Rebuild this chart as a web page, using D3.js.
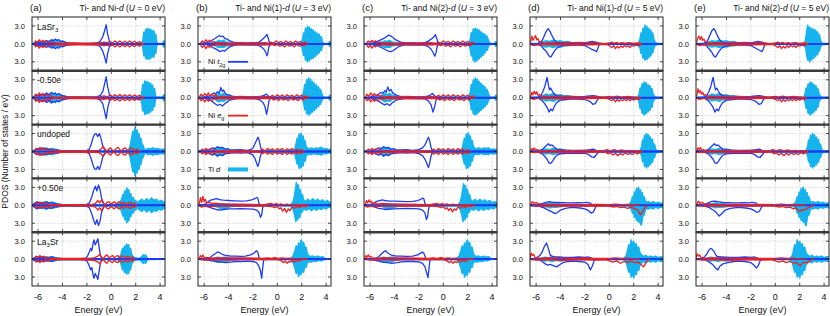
<!DOCTYPE html>
<html lang="en">
<head>
<meta charset="UTF-8">
<title>PDOS panels</title>
<script src="https://cdn.jsdelivr.net/npm/d3@7"></script>
<style>
  body { margin: 0; background: #fff; }
  text { font-family: "Liberation Sans", Arial, Helvetica, sans-serif; fill: #111; }
</style>
</head>
<body>
<script>
// ---- labels ----
var panelTags = ["(a)", "(b)", "(c)", "(d)", "(e)"];
var niSites = ["Ni", "Ni(1)", "Ni(2)", "Ni(1)", "Ni(2)"];
var uValues = [0, 3, 3, 5, 5];
var rowLabels = [
    [["LaSr", 0], ["3", 1]],
    [["-0.50e", 0]],
    [["undoped", 0]],
    [["+0.50e", 0]],
    [["La", 0], ["3", 1], ["Sr", 0]]
];
var legendLabels = [
    [["Ni ", 0], ["t", 2], ["2g", 1]],
    [["Ni ", 0], ["e", 2], ["g", 1]],
    [["Ti ", 0], ["d", 2]]
];
var xTicks = [-6, -4, -2, 0, 2, 4];
var yTicks = [3, 0, -3];
var yTickLabels = ["3.0", "0.0", "3.0"];

// ---- (a) U = 0, spin degenerate: [energy, states] ----
var t2gA = [
    [[-6.5,0],[-6.3,0.1],[-6.1,0.3],[-5.9,0.2],[-5.7,0.4],[-5.5,0.3],[-5.3,0.5],[-5.1,0.4],[-4.9,0.7],[-4.75,0.5],[-4.6,0.8],[-4.45,0.6],[-4.3,0.7],[-4.15,0.4],[-4.0,0.5],[-3.8,0.3],[-3.6,0.15],[-3.2,0.1],[-2.6,0.05],[-2.0,0.1],[-1.5,0.1],[-1.1,0.2],[-0.9,0.5],[-0.7,1.2],[-0.55,2.2],[-0.42,3.2],[-0.3,1.6],[-0.15,0.4],[0.1,0.1],[0.3,0],[4.4,0]],
    [[-6.5,0],[-6.3,0.2],[-6.1,0.5],[-5.9,0.3],[-5.7,0.6],[-5.5,0.4],[-5.3,0.8],[-5.1,0.5],[-4.9,0.9],[-4.75,0.6],[-4.6,0.8],[-4.45,0.5],[-4.3,0.7],[-4.1,0.4],[-3.9,0.3],[-3.6,0.15],[-3.0,0.1],[-2.0,0.1],[-1.2,0.15],[-0.9,0.4],[-0.7,1.0],[-0.55,2.3],[-0.42,3.5],[-0.3,1.8],[-0.15,0.5],[0.1,0.1],[0.3,0],[4.4,0]],
    [[-6.5,0],[-6.3,0.2],[-6.1,0.5],[-5.9,0.3],[-5.7,0.6],[-5.5,0.4],[-5.3,0.5],[-5.1,0.3],[-4.9,0.4],[-4.7,0.2],[-4.5,0.3],[-4.2,0.1],[-3.5,0.1],[-3.0,0.15],[-2.5,0.1],[-2.0,0.15],[-1.8,0.4],[-1.65,1.2],[-1.5,2.3],[-1.37,2.9],[-1.25,3.0],[-1.12,2.5],[-0.98,3.0],[-0.85,2.2],[-0.7,0.9],[-0.55,0.3],[-0.4,0.1],[0,0],[4.4,0]],
    [[-6.5,0],[-6.3,0.3],[-6.1,0.6],[-5.9,0.3],[-5.7,0.5],[-5.5,0.3],[-5.3,0.6],[-5.1,0.4],[-4.9,0.5],[-4.7,0.3],[-4.4,0.2],[-4.0,0.1],[-3.0,0.1],[-2.0,0.15],[-1.8,0.4],[-1.6,1.4],[-1.45,2.5],[-1.3,3.2],[-1.18,2.4],[-1.05,3.4],[-0.92,2.6],[-0.8,1.2],[-0.65,0.4],[-0.5,0.1],[0,0],[4.4,0]],
    [[-6.5,0],[-6.3,0.2],[-6.1,0.4],[-5.9,0.2],[-5.7,0.4],[-5.5,0.2],[-5.3,0.3],[-5.1,0.2],[-4.9,0.4],[-4.7,0.2],[-4.4,0.1],[-3.5,0.05],[-2.5,0.1],[-2.1,0.15],[-1.95,0.5],[-1.8,1.2],[-1.7,1.8],[-1.6,1.4],[-1.5,2.6],[-1.42,3.2],[-1.32,2.4],[-1.22,2.8],[-1.1,3.4],[-1.0,2.0],[-0.9,0.7],[-0.8,0.2],[-0.6,0.05],[0,0],[4.4,0]]
];
var egA = [
    [[-6.3,0.1],[-6.2,0.5],[-6.05,0.2],[-5.9,0.7],[-5.75,0.3],[-5.6,0.6],[-5.45,0.2],[-5.3,0.5],[-5.15,0.2],[-5.0,0.3],[-4.5,0.15],[-4.0,0.1],[-3.0,0.15],[-2.0,0.1],[-1.0,0.15],[-0.6,0.3],[-0.3,0.2],[-0.1,0.4],[0.1,0.15],[0.3,0.5],[0.5,0.2],[0.7,0.5],[0.9,0.15],[1.1,0.45],[1.3,0.2],[1.5,0.5],[1.7,0.2],[1.9,0.45],[2.1,0.15],[2.3,0.4],[2.5,0.1],[2.7,0]],
    [[-6.3,0.1],[-6.2,0.6],[-6.05,0.2],[-5.9,0.8],[-5.75,0.3],[-5.6,0.7],[-5.45,0.2],[-5.3,0.5],[-5.15,0.2],[-5.0,0.4],[-4.8,0.1],[-4.0,0.1],[-3.0,0.15],[-2.0,0.1],[-1.0,0.15],[-0.6,0.3],[-0.3,0.15],[-0.1,0.45],[0.1,0.15],[0.3,0.5],[0.5,0.2],[0.7,0.55],[0.9,0.15],[1.1,0.5],[1.3,0.2],[1.5,0.5],[1.7,0.15],[1.9,0.45],[2.1,0.2],[2.3,0.4],[2.5,0.1],[2.7,0]],
    [[-6.3,0.1],[-6.15,0.5],[-6.0,0.2],[-5.85,0.7],[-5.7,0.3],[-5.55,0.6],[-5.4,0.2],[-5.25,0.4],[-5.1,0.15],[-4.9,0.3],[-4.6,0.1],[-4.0,0.15],[-3.5,0.1],[-3.0,0.15],[-2.5,0.1],[-2.0,0.15],[-1.5,0.1],[-1.0,0.2],[-0.8,0.5],[-0.65,0.8],[-0.5,0.3],[-0.35,0.1],[-0.2,0.4],[-0.05,0.6],[0.1,0.2],[0.25,0.1],[0.4,0.5],[0.55,0.7],[0.7,0.3],[0.85,0.1],[1.0,0.5],[1.15,0.6],[1.3,0.2],[1.45,0.2],[1.6,0.6],[1.75,0.5],[1.9,0.1],[2.05,0.4],[2.2,0.2],[2.35,0]],
    [[-6.3,0.1],[-6.15,0.4],[-6.0,0.2],[-5.85,0.5],[-5.7,0.2],[-5.55,0.4],[-5.4,0.15],[-5.2,0.3],[-5.0,0.1],[-4.5,0.1],[-3.5,0.1],[-2.5,0.1],[-1.6,0.15],[-1.3,0.3],[-1.1,0.8],[-0.95,0.4],[-0.8,0.9],[-0.65,0.3],[-0.5,0.1],[-0.35,0.5],[-0.2,0.6],[-0.05,0.2],[0.1,0.4],[0.25,0.6],[0.4,0.2],[0.55,0.5],[0.7,0.6],[0.85,0.2],[1.0,0.5],[1.15,0.4],[1.3,0.1],[1.45,0.45],[1.6,0.5],[1.75,0.15],[1.9,0.35],[2.05,0]],
    [[-6.3,0.1],[-6.15,0.5],[-6.0,0.2],[-5.85,0.6],[-5.7,0.2],[-5.55,0.5],[-5.4,0.1],[-5.2,0.3],[-5.0,0.1],[-4.5,0.1],[-3.5,0.1],[-2.5,0.1],[-1.8,0.15],[-1.4,0.2],[-1.1,0.5],[-0.95,0.8],[-0.8,0.3],[-0.65,0.1],[-0.5,0.5],[-0.35,0.7],[-0.2,0.2],[-0.05,0.4],[0.1,0.6],[0.25,0.2],[0.4,0.5],[0.55,0.6],[0.7,0.2],[0.85,0.5],[1.0,0.5],[1.15,0.15],[1.3,0.45],[1.45,0.4],[1.6,0.1],[1.75,0.35],[1.9,0]]
];
var tiA = [
    [[-6.5,0],[-6.3,0.2],[-6.0,0.4],[-5.7,0.3],[-5.4,0.5],[-5.1,0.4],[-4.8,0.6],[-4.5,0.5],[-4.2,0.4],[-3.9,0.35],[-3.5,0.1],[-3,0.05],[2.5,0.05],[2.6,0.8],[2.68,2.0],[2.76,1.4],[2.84,2.5],[2.92,1.8],[3.0,2.6],[3.08,1.9],[3.16,2.5],[3.24,1.6],[3.32,2.3],[3.4,1.5],[3.48,2.2],[3.56,1.2],[3.64,1.6],[3.72,0.3],[3.8,0.05],[4.2,0.05],[4.3,0.5],[4.4,0.3]],
    [[-6.5,0],[-6.3,0.2],[-6.0,0.5],[-5.7,0.4],[-5.4,0.6],[-5.1,0.5],[-4.8,0.7],[-4.5,0.5],[-4.2,0.5],[-3.9,0.3],[-3.5,0.1],[-3,0.05],[2.4,0.05],[2.5,0.9],[2.58,2.2],[2.66,1.5],[2.74,2.8],[2.82,2.0],[2.9,2.7],[2.98,1.9],[3.06,2.6],[3.14,1.7],[3.22,2.4],[3.3,1.5],[3.38,2.1],[3.46,1.2],[3.54,1.5],[3.62,0.3],[3.7,0.05],[4.2,0.05],[4.3,0.5],[4.4,0.3]],
    [[-6.5,0],[-6.3,0.2],[-6.0,0.5],[-5.7,0.4],[-5.4,0.6],[-5.1,0.4],[-4.8,0.5],[-4.5,0.3],[-4.0,0.1],[-3.0,0.05],[1.3,0.1],[1.5,0.6],[1.6,1.5],[1.7,2.6],[1.78,3.4],[1.86,2.8],[1.94,4.0],[2.02,3.2],[2.1,3.6],[2.18,2.7],[2.26,3.0],[2.34,2.0],[2.42,2.2],[2.5,1.3],[2.6,1.0],[2.7,0.4],[2.8,0.2],[3.0,0.5],[3.2,0.4],[3.4,0.6],[3.6,0.4],[3.8,0.5],[4.0,0.3],[4.2,0.4],[4.4,0.3]],
    [[-6.5,0],[-6.3,0.3],[-6.0,0.5],[-5.7,0.4],[-5.4,0.6],[-5.1,0.4],[-4.8,0.5],[-4.5,0.3],[-4.0,0.1],[-2,0.05],[0.4,0.1],[0.7,0.4],[0.85,1.0],[0.95,1.8],[1.03,1.4],[1.11,2.4],[1.19,2.0],[1.27,2.9],[1.35,2.2],[1.43,2.6],[1.51,1.6],[1.6,1.9],[1.7,1.0],[1.8,1.3],[1.9,0.6],[2.0,0.8],[2.1,0.4],[2.3,0.7],[2.5,1.0],[2.7,0.6],[2.9,1.1],[3.1,0.7],[3.3,1.2],[3.5,0.8],[3.7,1.0],[3.9,0.6],[4.1,0.8],[4.3,0.5],[4.4,0.6]],
    [[-6.5,0],[-6.3,0.2],[-6.0,0.4],[-5.7,0.3],[-5.4,0.4],[-5.1,0.3],[-4.8,0.4],[-4.5,0.2],[-4.0,0.1],[-3.0,0.05],[0.5,0.1],[0.75,0.5],[0.85,1.2],[0.93,1.8],[1.01,1.4],[1.09,2.2],[1.17,1.7],[1.25,2.5],[1.33,1.9],[1.41,2.4],[1.49,1.5],[1.57,1.8],[1.65,0.9],[1.75,0.5],[1.9,0.2],[2.3,0.1],[2.5,0.4],[2.6,0.7],[2.7,0.5],[2.8,0.7],[2.9,0.3],[3.0,0.05],[4.4,0]]
];

// ---- (b) Ni(1), U = 3 eV ----
var t2gUpB = [
    [[-6.5,0],[-6.2,0.1],[-5.8,0.2],[-5.5,0.4],[-5.3,0.7],[-5.1,0.9],[-4.9,1.2],[-4.75,1.4],[-4.6,1.2],[-4.45,1.3],[-4.3,0.9],[-4.1,0.8],[-3.9,0.5],[-3.6,0.3],[-3.2,0.15],[-2.5,0.1],[-1.8,0.15],[-1.5,0.3],[-1.3,0.6],[-1.1,1.0],[-0.95,1.3],[-0.85,1.6],[-0.75,1.0],[-0.65,0.3],[-0.5,0.1],[0,0],[4.4,0]],
    [[-6.5,0],[-6.0,0.1],[-5.6,0.3],[-5.4,0.5],[-5.2,0.8],[-5.05,0.6],[-4.9,1.0],[-4.75,0.8],[-4.63,1.7],[-4.5,1.0],[-4.4,1.3],[-4.25,0.7],[-4.1,0.5],[-3.9,0.45],[-3.6,0.2],[-3.0,0.1],[-2.0,0.1],[-1.4,0.2],[-1.1,0.4],[-0.9,0.6],[-0.75,0.3],[-0.6,0.1],[0,0],[4.4,0]],
    [[-6.5,0],[-6.2,0.1],[-5.8,0.2],[-5.5,0.4],[-5.3,0.6],[-5.1,0.5],[-4.9,0.8],[-4.7,0.6],[-4.5,0.7],[-4.3,0.4],[-4.1,0.5],[-3.9,0.3],[-3.5,0.25],[-3.0,0.3],[-2.5,0.2],[-2.2,0.3],[-2.0,0.6],[-1.85,1.2],[-1.7,1.9],[-1.58,2.4],[-1.48,1.8],[-1.38,0.8],[-1.28,0.2],[-1.1,0],[4.4,0]],
    [[-6.5,0],[-6.0,0.1],[-5.8,0.4],[-5.6,0.7],[-5.4,0.9],[-5.2,1.0],[-5.0,1.1],[-4.8,1.0],[-4.6,0.9],[-4.4,0.85],[-4.0,0.8],[-3.5,0.75],[-3.0,0.7],[-2.5,0.75],[-2.1,0.9],[-1.85,1.1],[-1.7,1.3],[-1.6,1.2],[-1.5,0.3],[-1.4,0.05],[0,0],[4.4,0]],
    [[-6.5,0],[-5.8,0.1],[-5.5,0.3],[-5.3,0.6],[-5.1,0.9],[-4.9,1.2],[-4.75,1.1],[-4.6,0.9],[-4.4,0.7],[-4.2,0.6],[-3.8,0.5],[-3.4,0.5],[-3.0,0.45],[-2.6,0.5],[-2.2,0.7],[-1.9,1.0],[-1.72,1.4],[-1.6,1.2],[-1.5,0.2],[-1.4,0],[4.4,0]]
];
var t2gDnB = [
    [[-6.5,0],[-5.8,-0.1],[-5.5,-0.3],[-5.3,-0.6],[-5.1,-0.8],[-4.9,-1.0],[-4.7,-1.3],[-4.5,-1.1],[-4.3,-1.2],[-4.1,-0.8],[-3.9,-0.5],[-3.6,-0.3],[-3.2,-0.1],[-2.0,-0.1],[-1.6,-0.2],[-1.3,-0.5],[-1.1,-0.9],[-0.95,-1.4],[-0.85,-2.0],[-0.78,-1.6],[-0.7,-0.5],[-0.55,-0.1],[0,0],[4.4,0]],
    [[-6.5,0],[-5.8,-0.1],[-5.5,-0.4],[-5.3,-0.7],[-5.1,-1.0],[-4.9,-1.3],[-4.7,-1.1],[-4.5,-1.4],[-4.3,-1.0],[-4.1,-0.7],[-3.9,-0.4],[-3.5,-0.2],[-3.0,-0.1],[-1.8,-0.15],[-1.4,-0.4],[-1.15,-0.9],[-1.0,-1.6],[-0.88,-2.8],[-0.78,-1.8],[-0.68,-0.5],[-0.55,-0.1],[0,0],[4.4,0]],
    [[-6.5,0],[-6.0,-0.1],[-5.6,-0.3],[-5.3,-0.6],[-5.1,-0.4],[-4.9,-0.8],[-4.7,-0.5],[-4.5,-0.7],[-4.3,-0.4],[-4.0,-0.3],[-3.5,-0.2],[-3.0,-0.25],[-2.5,-0.2],[-2.2,-0.35],[-2.0,-0.6],[-1.85,-1.1],[-1.72,-1.8],[-1.6,-2.5],[-1.5,-1.9],[-1.4,-0.9],[-1.3,-0.2],[-1.1,0],[4.4,0]],
    [[-6.5,0],[-6.0,-0.1],[-5.6,-0.3],[-5.3,-0.5],[-5.0,-0.7],[-4.7,-0.8],[-4.4,-0.7],[-4.0,-0.6],[-3.5,-0.6],[-3.0,-0.55],[-2.5,-0.6],[-2.0,-0.65],[-1.7,-0.8],[-1.5,-1.2],[-1.38,-2.0],[-1.28,-1.6],[-1.2,-0.4],[-1.1,-0.05],[0,0],[4.4,0]],
    [[-6.5,0],[-5.8,-0.1],[-5.4,-0.3],[-5.0,-0.4],[-4.6,-0.5],[-4.2,-0.6],[-3.8,-0.5],[-3.4,-0.4],[-3.0,-0.4],[-2.5,-0.35],[-2.0,-0.4],[-1.7,-0.6],[-1.5,-1.2],[-1.38,-2.0],[-1.28,-3.2],[-1.2,-1.5],[-1.12,-0.2],[-1.0,0],[4.4,0]]
];
var egUpB = [
    [[-6.3,0.1],[-6.15,0.5],[-6.0,0.2],[-5.85,0.7],[-5.7,0.3],[-5.55,0.6],[-5.4,0.2],[-5.2,0.4],[-5.0,0.15],[-4.5,0.2],[-4.0,0.1],[-3.5,0.15],[-3.0,0.2],[-2.5,0.15],[-2.0,0.2],[-1.5,0.15],[-1.0,0.2],[-0.7,0.1],[-0.5,0.3],[-0.3,0.1],[-0.1,0.5],[0.1,0.2],[0.3,0.4],[0.5,0.1],[0.7,0.5],[0.9,0.2],[1.1,0.4],[1.3,0.1],[1.5,0.5],[1.7,0.2],[1.9,0.4],[2.1,0.1],[2.3,0.3],[2.5,0]],
    [[-6.4,0.1],[-6.25,0.6],[-6.1,0.2],[-5.95,0.7],[-5.8,0.3],[-5.65,0.8],[-5.5,0.2],[-5.35,0.6],[-5.2,0.2],[-5.05,0.5],[-4.9,0.1],[-4.5,0.2],[-4.0,0.15],[-3.0,0.2],[-2.0,0.15],[-1.0,0.2],[-0.6,0.1],[-0.4,0.4],[-0.2,0.1],[0.0,0.5],[0.2,0.15],[0.4,0.45],[0.6,0.1],[0.8,0.5],[1.0,0.2],[1.2,0.4],[1.4,0.1],[1.6,0.5],[1.8,0.2],[2.0,0.4],[2.2,0.1],[2.4,0.3],[2.6,0]],
    [[-6.3,0.1],[-6.15,0.4],[-6.0,0.15],[-5.85,0.5],[-5.7,0.2],[-5.55,0.4],[-5.4,0.15],[-5.2,0.3],[-5.0,0.1],[-4.5,0.15],[-4.0,0.1],[-3.0,0.15],[-2.0,0.1],[-1.4,0.15],[-1.2,0.4],[-1.0,0.1],[-0.8,0.5],[-0.6,0.2],[-0.4,0.45],[-0.2,0.1],[0.0,0.5],[0.2,0.2],[0.4,0.5],[0.6,0.1],[0.8,0.45],[1.0,0.2],[1.2,0.5],[1.4,0.1],[1.6,0.4],[1.8,0.15],[2.0,0.3],[2.2,0]],
    [[-6.4,0.2],[-6.3,1.3],[-6.2,0.5],[-6.1,1.5],[-6.0,0.6],[-5.9,1.0],[-5.8,0.4],[-5.6,0.5],[-5.4,0.3],[-5.0,0.3],[-4.5,0.25],[-4.0,0.2],[-3.0,0.2],[-2.0,0.15],[-1.5,0.1],[-1.0,0.15],[-0.5,0.3],[-0.3,0.1],[-0.1,0.3],[0.1,0.1],[0.3,0.25],[0.5,0.05],[0.8,0.2],[1.0,0.05],[1.5,0.1],[2.0,0.05],[2.5,0]],
    [[-6.4,0.1],[-6.3,0.6],[-6.2,0.3],[-6.1,0.7],[-6.0,0.2],[-5.8,0.3],[-5.5,0.15],[-5.0,0.2],[-4.0,0.2],[-3.0,0.2],[-2.0,0.15],[-1.2,0.1],[-0.8,0.2],[-0.5,0.1],[-0.2,0.25],[0.1,0.1],[0.4,0.2],[0.7,0.1],[1.0,0.15],[1.5,0.05],[2.5,0]]
];
var egDnB = [
    [[-6.3,-0.1],[-6.15,-0.6],[-6.0,-0.2],[-5.85,-0.8],[-5.7,-0.3],[-5.55,-0.6],[-5.4,-0.2],[-5.2,-0.3],[-5.0,-0.1],[-4.5,-0.2],[-4.0,-0.15],[-3.0,-0.15],[-2.0,-0.2],[-1.0,-0.15],[-0.4,-0.1],[-0.2,-0.3],[0.0,-0.1],[0.2,-0.4],[0.4,-0.2],[0.6,-0.5],[0.8,-0.1],[1.0,-0.4],[1.2,-0.2],[1.4,-0.5],[1.6,-0.1],[1.8,-0.4],[2.0,-0.2],[2.2,-0.3],[2.4,0]],
    [[-6.4,-0.1],[-6.25,-0.5],[-6.1,-0.2],[-5.95,-0.7],[-5.8,-0.2],[-5.65,-0.6],[-5.5,-0.3],[-5.35,-0.5],[-5.2,-0.1],[-5.0,-0.3],[-4.8,-0.1],[-4.0,-0.15],[-3.0,-0.15],[-2.0,-0.2],[-1.0,-0.15],[-0.5,-0.1],[-0.3,-0.4],[-0.1,-0.15],[0.1,-0.5],[0.3,-0.1],[0.5,-0.4],[0.7,-0.2],[0.9,-0.5],[1.1,-0.1],[1.3,-0.4],[1.5,-0.2],[1.7,-0.5],[1.9,-0.1],[2.1,-0.4],[2.3,-0.1],[2.5,0]],
    [[-6.3,-0.1],[-6.15,-0.4],[-6.0,-0.15],[-5.85,-0.5],[-5.7,-0.2],[-5.55,-0.4],[-5.4,-0.15],[-5.2,-0.3],[-5.0,-0.1],[-4.5,-0.15],[-4.0,-0.1],[-3.0,-0.15],[-2.0,-0.1],[-1.4,-0.15],[-1.2,-0.35],[-1.0,-0.1],[-0.8,-0.45],[-0.6,-0.2],[-0.4,-0.5],[-0.2,-0.1],[0.0,-0.45],[0.2,-0.2],[0.4,-0.5],[0.6,-0.1],[0.8,-0.5],[1.0,-0.2],[1.2,-0.45],[1.4,-0.1],[1.6,-0.4],[1.8,-0.15],[2.0,-0.3],[2.2,0]],
    [[-6.4,-0.1],[-6.2,-0.3],[-6.0,-0.1],[-5.5,-0.2],[-5.0,-0.15],[-4.0,-0.15],[-3.0,-0.1],[-2.0,-0.15],[-1.0,-0.1],[-0.5,-0.2],[-0.2,-0.4],[0.0,-0.2],[0.15,-0.6],[0.3,-0.4],[0.45,-1.0],[0.6,-0.5],[0.75,-1.2],[0.9,-0.6],[1.05,-0.9],[1.2,-0.3],[1.4,-0.5],[1.6,-0.2],[1.8,-0.4],[2.0,-0.1],[2.3,-0.2],[2.6,0]],
    [[-6.4,-0.05],[-6.0,-0.15],[-5.0,-0.1],[-4.0,-0.15],[-3.0,-0.1],[-2.0,-0.1],[-1.0,-0.1],[0.0,-0.1],[0.3,-0.2],[0.5,-0.6],[0.65,-0.3],[0.8,-0.7],[0.95,-0.4],[1.1,-0.5],[1.25,-0.2],[1.4,-0.5],[1.6,-0.2],[1.8,-0.3],[2.0,-0.1],[2.4,0]]
];
var tiUpB = [
    [[-6.5,0],[-5.3,0.1],[-5.0,0.3],[-4.8,0.6],[-4.6,0.4],[-4.4,0.6],[-4.2,0.3],[-3.8,0.2],[-3.2,0.1],[0,0.05],[1.9,0.05],[2.05,0.6],[2.15,1.8],[2.23,1.2],[2.31,2.6],[2.39,1.9],[2.47,2.9],[2.55,2.1],[2.63,2.8],[2.71,1.8],[2.79,2.5],[2.87,1.6],[2.95,2.3],[3.03,1.5],[3.11,2.0],[3.19,1.3],[3.27,1.8],[3.35,1.2],[3.43,1.6],[3.51,0.9],[3.6,1.2],[3.7,0.3],[3.8,0.05],[4.2,0.05],[4.3,0.4],[4.4,0.2]],
    [[-6.5,0],[-5.3,0.1],[-5.0,0.4],[-4.8,0.7],[-4.6,0.5],[-4.4,0.7],[-4.2,0.4],[-3.8,0.2],[-3.2,0.1],[0,0.05],[2.0,0.05],[2.15,0.8],[2.25,2.2],[2.33,1.5],[2.41,3.0],[2.49,2.2],[2.57,3.3],[2.65,2.4],[2.73,3.1],[2.81,2.0],[2.89,2.7],[2.97,1.8],[3.05,2.4],[3.13,1.5],[3.21,2.1],[3.29,1.4],[3.37,1.8],[3.45,1.1],[3.53,1.4],[3.62,0.8],[3.72,0.3],[3.82,0.05],[4.2,0.05],[4.3,0.4],[4.4,0.2]],
    [[-6.5,0],[-5.4,0.1],[-5.1,0.4],[-4.9,0.7],[-4.7,0.5],[-4.5,0.6],[-4.3,0.3],[-3.8,0.15],[-3.0,0.1],[0,0.05],[1.2,0.1],[1.45,0.5],[1.55,1.4],[1.63,2.2],[1.71,1.6],[1.79,2.9],[1.87,2.3],[1.95,3.0],[2.03,2.1],[2.11,2.6],[2.19,1.5],[2.27,1.8],[2.35,0.9],[2.45,0.6],[2.6,0.4],[2.8,0.6],[3.0,0.4],[3.2,0.6],[3.4,0.5],[3.6,0.7],[3.8,0.4],[4.0,0.5],[4.2,0.3],[4.4,0.4]],
    [[-6.5,0],[-5.0,0.1],[-4.5,0.2],[-3,0.1],[0,0.05],[1.1,0.1],[1.3,0.6],[1.4,1.5],[1.48,2.5],[1.56,3.8],[1.64,2.8],[1.72,3.4],[1.8,2.2],[1.88,2.6],[1.96,1.6],[2.05,1.8],[2.15,0.9],[2.3,0.6],[2.5,1.0],[2.7,0.6],[2.9,1.1],[3.1,0.7],[3.3,1.0],[3.5,0.6],[3.7,0.9],[3.9,0.5],[4.1,0.8],[4.3,0.4],[4.4,0.5]],
    [[-6.5,0],[-5.2,0.1],[-4.9,0.3],[-4.6,0.2],[-4.3,0.3],[-3.8,0.1],[0,0.05],[1.1,0.1],[1.3,0.5],[1.45,1.4],[1.55,2.2],[1.65,1.6],[1.75,2.7],[1.85,2.1],[1.95,3.2],[2.05,2.4],[2.15,2.8],[2.25,1.8],[2.35,2.0],[2.45,1.0],[2.55,0.6],[2.7,0.4],[2.9,0.5],[3.1,0.3],[3.3,0.5],[3.5,0.3],[3.7,0.4],[3.9,0.1],[4.1,0],[4.4,0]]
];
var tiDnB = [
    [[-6.5,0],[-5.3,-0.1],[-5.0,-0.4],[-4.8,-0.6],[-4.6,-0.5],[-4.4,-0.6],[-4.2,-0.3],[-3.8,-0.2],[-3.2,-0.1],[0,-0.05],[1.9,-0.05],[2.05,-0.7],[2.15,-1.9],[2.23,-1.3],[2.31,-2.7],[2.39,-2.0],[2.47,-3.0],[2.55,-2.2],[2.63,-2.8],[2.71,-1.9],[2.79,-2.5],[2.87,-1.7],[2.95,-2.4],[3.03,-1.6],[3.11,-2.1],[3.19,-1.4],[3.27,-1.8],[3.35,-1.2],[3.43,-1.5],[3.51,-0.9],[3.6,-1.1],[3.7,-0.3],[3.8,-0.05],[4.2,-0.05],[4.3,-0.4],[4.4,-0.2]],
    [[-6.5,0],[-5.3,-0.1],[-5.0,-0.4],[-4.8,-0.7],[-4.6,-0.5],[-4.4,-0.6],[-4.2,-0.3],[-3.8,-0.2],[-3.2,-0.1],[0,-0.05],[2.0,-0.05],[2.15,-0.7],[2.25,-2.0],[2.33,-1.4],[2.41,-2.7],[2.49,-2.0],[2.57,-2.9],[2.65,-2.1],[2.73,-2.7],[2.81,-1.8],[2.89,-2.4],[2.97,-1.6],[3.05,-2.1],[3.13,-1.3],[3.21,-1.8],[3.29,-1.2],[3.37,-1.5],[3.45,-0.9],[3.53,-1.1],[3.62,-0.6],[3.72,-0.2],[3.82,-0.05],[4.2,-0.05],[4.3,-0.4],[4.4,-0.2]],
    [[-6.5,0],[-5.4,-0.1],[-5.1,-0.4],[-4.9,-0.7],[-4.7,-0.5],[-4.5,-0.6],[-4.3,-0.3],[-3.8,-0.15],[-3.0,-0.1],[0,-0.05],[1.2,-0.1],[1.45,-0.5],[1.55,-1.4],[1.63,-2.1],[1.71,-1.6],[1.79,-2.8],[1.87,-2.2],[1.95,-2.7],[2.03,-1.9],[2.11,-2.4],[2.19,-1.4],[2.27,-1.6],[2.35,-0.8],[2.45,-0.5],[2.6,-0.4],[2.8,-0.5],[3.0,-0.3],[3.2,-0.5],[3.4,-0.4],[3.6,-0.6],[3.8,-0.3],[4.0,-0.4],[4.2,-0.2],[4.4,-0.3]],
    [[-6.5,0],[-5.0,-0.2],[-4.7,-0.5],[-4.4,-0.6],[-4.1,-0.4],[-3.8,-0.2],[-3,-0.1],[0,-0.05],[1.1,-0.1],[1.3,-0.7],[1.42,-1.6],[1.52,-2.7],[1.6,-1.9],[1.68,-2.4],[1.76,-1.5],[1.84,-2.0],[1.92,-1.1],[2.0,-1.2],[2.15,-0.6],[2.4,-0.8],[2.6,-0.5],[2.8,-0.9],[3.0,-0.5],[3.2,-0.8],[3.4,-0.5],[3.6,-0.7],[3.8,-0.4],[4.0,-0.6],[4.2,-0.3],[4.4,-0.4]],
    [[-6.5,0],[-5.2,-0.2],[-4.9,-0.5],[-4.6,-0.4],[-4.3,-0.5],[-3.9,-0.2],[-3,-0.05],[1.1,-0.1],[1.3,-0.6],[1.45,-1.5],[1.55,-2.4],[1.65,-1.8],[1.75,-2.9],[1.85,-2.0],[1.95,-2.6],[2.05,-1.6],[2.15,-2.2],[2.25,-1.2],[2.35,-1.4],[2.45,-0.6],[2.6,-0.4],[2.8,-0.5],[3.0,-0.3],[3.2,-0.4],[3.4,-0.2],[3.6,-0.3],[3.8,-0.1],[4.0,0],[4.4,0]]
];

// ---- (c) Ni(2), U = 3 eV ----
var t2gUpC = [
    [[-6.5,0],[-6.0,0.1],[-5.6,0.2],[-5.3,0.5],[-5.0,0.8],[-4.8,1.0],[-4.6,1.3],[-4.45,1.5],[-4.3,1.3],[-4.15,1.1],[-4.0,0.8],[-3.8,0.6],[-3.5,0.3],[-3.0,0.15],[-2.0,0.1],[-1.5,0.2],[-1.2,0.5],[-1.0,0.8],[-0.8,1.1],[-0.65,1.55],[-0.55,1.0],[-0.45,0.3],[-0.3,0.05],[0,0],[4.4,0]],
    [[-6.5,0],[-6.0,0.1],[-5.6,0.3],[-5.3,0.6],[-5.1,0.9],[-4.95,0.7],[-4.8,1.2],[-4.68,0.9],[-4.55,1.8],[-4.42,1.1],[-4.3,1.4],[-4.15,0.8],[-4.0,0.6],[-3.8,0.4],[-3.5,0.2],[-3.0,0.1],[-2.0,0.1],[-1.4,0.2],[-1.1,0.4],[-0.9,0.7],[-0.75,0.4],[-0.6,0.1],[0,0],[4.4,0]],
    [[-6.5,0],[-6.2,0.1],[-5.8,0.2],[-5.5,0.4],[-5.3,0.6],[-5.1,0.5],[-4.9,0.8],[-4.7,0.6],[-4.5,0.7],[-4.3,0.4],[-4.1,0.5],[-3.9,0.3],[-3.5,0.25],[-3.0,0.3],[-2.5,0.2],[-2.0,0.3],[-1.7,0.6],[-1.5,1.1],[-1.35,1.8],[-1.22,2.4],[-1.12,1.8],[-1.02,0.8],[-0.92,0.2],[-0.7,0],[4.4,0]],
    [[-6.5,0],[-6.0,0.1],[-5.8,0.3],[-5.6,0.5],[-5.4,0.7],[-5.2,0.8],[-5.0,0.9],[-4.8,0.8],[-4.6,0.75],[-4.4,0.7],[-4.0,0.7],[-3.5,0.65],[-3.0,0.6],[-2.5,0.65],[-2.1,0.8],[-1.85,1.0],[-1.7,1.2],[-1.6,1.1],[-1.5,0.3],[-1.4,0.05],[0,0],[4.4,0]],
    [[-6.5,0],[-5.6,0.1],[-5.3,0.4],[-5.1,0.8],[-4.9,1.2],[-4.73,1.4],[-4.6,1.1],[-4.45,0.9],[-4.2,0.6],[-3.8,0.5],[-3.4,0.5],[-3.0,0.45],[-2.5,0.5],[-2.1,0.7],[-1.85,1.0],[-1.72,1.2],[-1.6,1.0],[-1.45,0.2],[-1.35,0],[4.4,0]]
];
var t2gDnC = [
    [[-6.5,0],[-5.8,-0.1],[-5.4,-0.3],[-5.1,-0.6],[-4.8,-0.9],[-4.5,-1.2],[-4.3,-1.3],[-4.1,-1.1],[-3.9,-0.8],[-3.6,-0.4],[-3.2,-0.15],[-2.0,-0.1],[-1.5,-0.2],[-1.2,-0.5],[-1.0,-0.9],[-0.85,-1.4],[-0.7,-2.05],[-0.6,-1.5],[-0.5,-0.4],[-0.35,-0.05],[0,0],[4.4,0]],
    [[-6.5,0],[-5.8,-0.1],[-5.5,-0.4],[-5.2,-0.7],[-5.0,-1.0],[-4.8,-1.2],[-4.6,-1.0],[-4.4,-1.3],[-4.2,-0.9],[-4.0,-0.6],[-3.7,-0.3],[-3.2,-0.15],[-2.0,-0.1],[-1.5,-0.2],[-1.2,-0.6],[-1.0,-1.2],[-0.85,-2.4],[-0.72,-1.6],[-0.6,-0.4],[-0.45,-0.05],[0,0],[4.4,0]],
    [[-6.5,0],[-6.0,-0.1],[-5.6,-0.3],[-5.3,-0.6],[-5.1,-0.4],[-4.9,-0.8],[-4.7,-0.5],[-4.5,-0.7],[-4.3,-0.4],[-4.0,-0.3],[-3.5,-0.2],[-3.0,-0.25],[-2.5,-0.2],[-2.0,-0.35],[-1.7,-0.7],[-1.5,-1.3],[-1.35,-2.0],[-1.22,-2.7],[-1.12,-2.0],[-1.02,-0.9],[-0.92,-0.2],[-0.7,0],[4.4,0]],
    [[-6.5,0],[-6.0,-0.1],[-5.6,-0.3],[-5.3,-0.5],[-5.0,-0.6],[-4.7,-0.7],[-4.4,-0.65],[-4.0,-0.6],[-3.5,-0.55],[-3.0,-0.5],[-2.5,-0.55],[-2.0,-0.6],[-1.7,-0.8],[-1.5,-1.3],[-1.38,-2.4],[-1.28,-1.8],[-1.2,-0.5],[-1.1,-0.05],[0,0],[4.4,0]],
    [[-6.5,0],[-5.8,-0.1],[-5.4,-0.3],[-5.0,-0.5],[-4.6,-0.6],[-4.2,-0.7],[-3.8,-0.6],[-3.4,-0.45],[-3.0,-0.4],[-2.5,-0.4],[-2.0,-0.45],[-1.7,-0.7],[-1.5,-1.3],[-1.38,-2.2],[-1.25,-3.1],[-1.17,-1.5],[-1.1,-0.2],[-1.0,0],[4.4,0]]
];
var egUpC = [
    [[-6.3,0.1],[-6.15,0.5],[-6.0,0.2],[-5.85,0.6],[-5.7,0.3],[-5.55,0.5],[-5.4,0.2],[-5.2,0.3],[-5.0,0.15],[-4.5,0.2],[-4.0,0.1],[-3.0,0.2],[-2.0,0.15],[-1.0,0.2],[-0.6,0.1],[-0.4,0.3],[-0.2,0.1],[0.0,0.5],[0.2,0.2],[0.4,0.4],[0.6,0.1],[0.8,0.5],[1.0,0.2],[1.2,0.4],[1.4,0.1],[1.6,0.5],[1.8,0.2],[2.0,0.4],[2.2,0.1],[2.4,0.3],[2.6,0]],
    [[-6.4,0.1],[-6.25,0.6],[-6.1,0.2],[-5.95,0.8],[-5.8,0.3],[-5.65,0.7],[-5.5,0.2],[-5.35,0.5],[-5.2,0.2],[-5.05,0.4],[-4.9,0.1],[-4.5,0.2],[-4.0,0.15],[-3.0,0.2],[-2.0,0.15],[-1.0,0.2],[-0.6,0.1],[-0.4,0.4],[-0.2,0.1],[0.0,0.5],[0.2,0.15],[0.4,0.45],[0.6,0.1],[0.8,0.5],[1.0,0.2],[1.2,0.4],[1.4,0.1],[1.6,0.5],[1.8,0.2],[2.0,0.4],[2.2,0.1],[2.4,0.3],[2.6,0]],
    [[-6.3,0.1],[-6.15,0.4],[-6.0,0.15],[-5.85,0.5],[-5.7,0.2],[-5.55,0.4],[-5.4,0.15],[-5.2,0.3],[-5.0,0.1],[-4.5,0.15],[-4.0,0.1],[-3.0,0.15],[-2.0,0.1],[-1.0,0.15],[-0.8,0.4],[-0.6,0.1],[-0.4,0.5],[-0.2,0.2],[0.0,0.45],[0.2,0.1],[0.4,0.5],[0.6,0.2],[0.8,0.45],[1.0,0.1],[1.2,0.5],[1.4,0.2],[1.6,0.4],[1.8,0.1],[2.0,0.3],[2.2,0]],
    [[-6.4,0.2],[-6.3,0.8],[-6.2,0.4],[-6.1,0.9],[-6.0,0.5],[-5.9,0.7],[-5.8,0.3],[-5.6,0.4],[-5.4,0.2],[-5.0,0.3],[-4.5,0.25],[-4.0,0.2],[-3.0,0.2],[-2.0,0.15],[-1.5,0.1],[-1.0,0.15],[-0.5,0.3],[-0.3,0.1],[-0.1,0.3],[0.1,0.1],[0.3,0.25],[0.5,0.05],[0.8,0.2],[1.0,0.05],[1.5,0.1],[2.0,0.05],[2.5,0]],
    [[-6.45,0.1],[-6.35,0.6],[-6.25,0.3],[-6.15,0.7],[-6.05,0.3],[-5.95,0.5],[-5.8,0.2],[-5.5,0.15],[-5.0,0.2],[-4.0,0.2],[-3.0,0.2],[-2.0,0.15],[-1.2,0.1],[-0.8,0.2],[-0.5,0.1],[-0.2,0.25],[0.1,0.1],[0.4,0.2],[0.7,0.1],[1.0,0.15],[1.5,0.05],[2.5,0]]
];
var egDnC = [
    [[-6.3,-0.1],[-6.15,-0.6],[-6.0,-0.2],[-5.85,-0.7],[-5.7,-0.3],[-5.55,-0.5],[-5.4,-0.2],[-5.2,-0.3],[-5.0,-0.1],[-4.5,-0.2],[-4.0,-0.15],[-3.0,-0.15],[-2.0,-0.2],[-1.0,-0.15],[-0.4,-0.1],[-0.2,-0.3],[0.0,-0.1],[0.2,-0.4],[0.4,-0.2],[0.6,-0.5],[0.8,-0.1],[1.0,-0.4],[1.2,-0.2],[1.4,-0.5],[1.6,-0.1],[1.8,-0.4],[2.0,-0.2],[2.2,-0.3],[2.4,0]],
    [[-6.4,-0.1],[-6.25,-0.5],[-6.1,-0.2],[-5.95,-0.7],[-5.8,-0.2],[-5.65,-0.6],[-5.5,-0.3],[-5.35,-0.5],[-5.2,-0.1],[-5.0,-0.3],[-4.8,-0.1],[-4.0,-0.15],[-3.0,-0.15],[-2.0,-0.2],[-1.0,-0.15],[-0.5,-0.1],[-0.3,-0.4],[-0.1,-0.15],[0.1,-0.5],[0.3,-0.1],[0.5,-0.4],[0.7,-0.2],[0.9,-0.5],[1.1,-0.1],[1.3,-0.4],[1.5,-0.2],[1.7,-0.5],[1.9,-0.1],[2.1,-0.4],[2.3,-0.1],[2.5,0]],
    [[-6.3,-0.1],[-6.15,-0.4],[-6.0,-0.15],[-5.85,-0.5],[-5.7,-0.2],[-5.55,-0.4],[-5.4,-0.15],[-5.2,-0.3],[-5.0,-0.1],[-4.5,-0.15],[-4.0,-0.1],[-3.0,-0.15],[-2.0,-0.1],[-1.0,-0.15],[-0.8,-0.45],[-0.6,-0.2],[-0.4,-0.5],[-0.2,-0.1],[0.0,-0.45],[0.2,-0.2],[0.4,-0.5],[0.6,-0.1],[0.8,-0.5],[1.0,-0.2],[1.2,-0.45],[1.4,-0.1],[1.6,-0.4],[1.8,-0.15],[2.0,-0.3],[2.2,0]],
    [[-6.4,-0.1],[-6.2,-0.3],[-6.0,-0.1],[-5.5,-0.2],[-5.0,-0.15],[-4.0,-0.15],[-3.0,-0.1],[-2.0,-0.15],[-1.0,-0.1],[-0.5,-0.2],[-0.2,-0.4],[0.0,-0.2],[0.15,-0.6],[0.3,-0.4],[0.45,-0.9],[0.6,-0.5],[0.75,-1.1],[0.9,-0.6],[1.05,-0.8],[1.2,-0.3],[1.4,-0.5],[1.6,-0.2],[1.8,-0.4],[2.0,-0.1],[2.3,-0.2],[2.6,0]],
    [[-6.4,-0.05],[-6.0,-0.15],[-5.0,-0.1],[-4.0,-0.15],[-3.0,-0.1],[-2.0,-0.1],[-1.0,-0.1],[0.0,-0.1],[0.3,-0.3],[0.5,-0.6],[0.65,-0.3],[0.8,-0.7],[0.95,-0.4],[1.1,-0.6],[1.25,-0.2],[1.4,-0.5],[1.6,-0.2],[1.8,-0.4],[2.0,-0.1],[2.4,0]]
];
var tiUpC = [
    [[-6.5,0],[-5.3,0.1],[-5.0,0.3],[-4.8,0.5],[-4.6,0.4],[-4.4,0.6],[-4.2,0.3],[-3.8,0.2],[-3.2,0.1],[0,0.05],[2.1,0.05],[2.2,0.7],[2.3,1.9],[2.38,1.3],[2.46,2.5],[2.54,1.8],[2.62,2.6],[2.7,1.9],[2.78,2.5],[2.86,1.7],[2.94,2.3],[3.02,1.5],[3.1,2.0],[3.18,1.3],[3.26,1.8],[3.34,1.2],[3.42,1.6],[3.5,1.0],[3.58,1.3],[3.66,0.8],[3.76,0.3],[3.86,0.05],[4.2,0.05],[4.3,0.4],[4.4,0.2]],
    [[-6.5,0],[-5.3,0.1],[-5.0,0.4],[-4.8,0.7],[-4.6,0.5],[-4.4,0.7],[-4.2,0.4],[-3.8,0.2],[-3.2,0.1],[0,0.05],[2.05,0.05],[2.2,0.8],[2.3,2.2],[2.38,1.5],[2.46,3.0],[2.54,2.2],[2.62,3.3],[2.7,2.4],[2.78,3.1],[2.86,2.0],[2.94,2.7],[3.02,1.8],[3.1,2.4],[3.18,1.5],[3.26,2.1],[3.34,1.4],[3.42,1.8],[3.5,1.1],[3.58,1.4],[3.67,0.8],[3.77,0.3],[3.87,0.05],[4.2,0.05],[4.3,0.4],[4.4,0.2]],
    [[-6.5,0],[-5.4,0.1],[-5.1,0.4],[-4.9,0.7],[-4.7,0.5],[-4.5,0.6],[-4.3,0.3],[-3.8,0.15],[-3.0,0.1],[0,0.05],[1.3,0.1],[1.55,0.5],[1.65,1.4],[1.73,2.2],[1.81,1.6],[1.89,2.9],[1.97,2.3],[2.05,3.1],[2.13,2.1],[2.21,2.6],[2.29,1.5],[2.37,1.8],[2.45,0.9],[2.55,0.6],[2.7,0.4],[2.9,0.6],[3.1,0.4],[3.3,0.6],[3.5,0.5],[3.7,0.6],[3.9,0.3],[4.1,0.4],[4.4,0.3]],
    [[-6.5,0],[-5.0,0.1],[-4.5,0.2],[-3,0.1],[0,0.05],[1.2,0.1],[1.4,0.6],[1.5,1.5],[1.58,2.5],[1.66,3.6],[1.74,2.7],[1.82,3.3],[1.9,2.2],[1.98,2.6],[2.06,1.6],[2.15,1.8],[2.25,0.9],[2.4,0.6],[2.6,1.0],[2.8,0.6],[3.0,1.0],[3.2,0.6],[3.4,0.9],[3.6,0.5],[3.8,0.8],[4.0,0.4],[4.2,0.6],[4.4,0.4]],
    [[-6.5,0],[-5.2,0.1],[-4.9,0.3],[-4.6,0.2],[-4.3,0.3],[-3.8,0.1],[0,0.05],[1.1,0.1],[1.3,0.5],[1.45,1.4],[1.55,2.2],[1.65,1.6],[1.75,2.7],[1.85,2.1],[1.95,3.2],[2.05,2.4],[2.15,2.8],[2.25,1.8],[2.35,2.0],[2.45,1.0],[2.55,0.6],[2.7,0.4],[2.9,0.5],[3.1,0.3],[3.3,0.5],[3.5,0.3],[3.7,0.4],[3.9,0.1],[4.1,0],[4.4,0]]
];
var tiDnC = [
    [[-6.5,0],[-5.3,-0.1],[-5.0,-0.4],[-4.8,-0.6],[-4.6,-0.5],[-4.4,-0.6],[-4.2,-0.3],[-3.8,-0.2],[-3.2,-0.1],[0,-0.05],[2.1,-0.05],[2.2,-0.8],[2.3,-2.0],[2.38,-1.4],[2.46,-2.8],[2.54,-2.0],[2.62,-3.0],[2.7,-2.2],[2.78,-2.8],[2.86,-1.9],[2.94,-2.5],[3.02,-1.7],[3.1,-2.2],[3.18,-1.4],[3.26,-1.9],[3.34,-1.2],[3.42,-1.5],[3.5,-0.9],[3.58,-1.1],[3.66,-0.6],[3.76,-0.2],[3.86,-0.05],[4.2,-0.05],[4.3,-0.4],[4.4,-0.2]],
    [[-6.5,0],[-5.3,-0.1],[-5.0,-0.4],[-4.8,-0.7],[-4.6,-0.5],[-4.4,-0.6],[-4.2,-0.3],[-3.8,-0.2],[-3.2,-0.1],[0,-0.05],[2.05,-0.05],[2.2,-0.7],[2.3,-2.0],[2.38,-1.4],[2.46,-2.7],[2.54,-2.0],[2.62,-2.9],[2.7,-2.1],[2.78,-2.7],[2.86,-1.8],[2.94,-2.4],[3.02,-1.6],[3.1,-2.1],[3.18,-1.3],[3.26,-1.8],[3.34,-1.2],[3.42,-1.5],[3.5,-0.9],[3.58,-1.1],[3.67,-0.6],[3.77,-0.2],[3.87,-0.05],[4.2,-0.05],[4.3,-0.4],[4.4,-0.2]],
    [[-6.5,0],[-5.4,-0.1],[-5.1,-0.4],[-4.9,-0.7],[-4.7,-0.5],[-4.5,-0.6],[-4.3,-0.3],[-3.8,-0.15],[-3.0,-0.1],[0,-0.05],[1.3,-0.1],[1.55,-0.5],[1.65,-1.4],[1.73,-2.1],[1.81,-1.6],[1.89,-2.8],[1.97,-2.2],[2.05,-2.7],[2.13,-1.9],[2.21,-2.4],[2.29,-1.4],[2.37,-1.6],[2.45,-0.8],[2.55,-0.5],[2.7,-0.4],[2.9,-0.5],[3.1,-0.3],[3.3,-0.5],[3.5,-0.4],[3.7,-0.5],[3.9,-0.3],[4.1,-0.4],[4.4,-0.3]],
    [[-6.5,0],[-5.0,-0.2],[-4.7,-0.5],[-4.4,-0.6],[-4.1,-0.4],[-3.8,-0.2],[-3,-0.1],[0,-0.05],[1.2,-0.1],[1.4,-0.7],[1.52,-1.6],[1.62,-2.7],[1.7,-1.9],[1.78,-2.4],[1.86,-1.5],[1.94,-2.0],[2.02,-1.1],[2.1,-1.2],[2.25,-0.6],[2.5,-0.8],[2.7,-0.5],[2.9,-0.9],[3.1,-0.5],[3.3,-0.8],[3.5,-0.5],[3.7,-0.7],[3.9,-0.4],[4.1,-0.6],[4.3,-0.3],[4.4,-0.4]],
    [[-6.5,0],[-5.2,-0.2],[-4.9,-0.5],[-4.6,-0.4],[-4.3,-0.5],[-3.9,-0.2],[-3,-0.05],[1.1,-0.1],[1.3,-0.6],[1.45,-1.5],[1.55,-2.4],[1.65,-1.8],[1.75,-3.0],[1.85,-2.0],[1.95,-2.7],[2.05,-1.6],[2.15,-2.2],[2.25,-1.2],[2.35,-1.4],[2.45,-0.6],[2.6,-0.4],[2.8,-0.5],[3.0,-0.3],[3.2,-0.4],[3.4,-0.2],[3.6,-0.3],[3.8,-0.1],[4.0,0],[4.4,0]]
];

// ---- (d) Ni(1), U = 5 eV ----
var t2gUpD = [
    [[-6.5,0],[-5.9,0.05],[-5.6,0.3],[-5.45,0.8],[-5.3,1.5],[-5.15,2.2],[-5.0,2.55],[-4.88,2.2],[-4.75,1.6],[-4.6,1.0],[-4.45,0.5],[-4.3,0.3],[-4.0,0.2],[-3.5,0.1],[-2.5,0.1],[-2.0,0.15],[-1.7,0.3],[-1.4,0.4],[-1.1,0.3],[-0.9,0.1],[-0.6,0],[4.4,0]],
    [[-6.5,0],[-5.8,0.1],[-5.6,0.4],[-5.45,1.0],[-5.3,1.8],[-5.2,2.6],[-5.1,3.4],[-5.0,2.2],[-4.9,1.3],[-4.8,1.6],[-4.7,1.2],[-4.55,0.7],[-4.4,0.4],[-4.2,0.3],[-3.8,0.2],[-3.0,0.15],[-2.0,0.2],[-1.6,0.3],[-1.3,0.35],[-1.0,0.2],[-0.7,0],[4.4,0]],
    [[-6.5,0],[-5.8,0.1],[-5.5,0.3],[-5.3,0.7],[-5.15,1.0],[-5.0,1.3],[-4.85,1.0],[-4.7,1.1],[-4.5,0.7],[-4.3,0.4],[-4.0,0.3],[-3.5,0.2],[-3.0,0.2],[-2.0,0.2],[-1.6,0.3],[-1.3,0.4],[-1.1,0.2],[-0.9,0],[4.4,0]],
    [[-6.5,0],[-5.8,0.1],[-5.5,0.3],[-5.2,0.5],[-4.9,0.6],[-4.6,0.5],[-4.2,0.5],[-3.8,0.45],[-3.4,0.4],[-3.0,0.4],[-2.6,0.45],[-2.2,0.4],[-1.9,0.5],[-1.6,0.4],[-1.4,0.1],[-1.2,0],[4.4,0]],
    [[-6.5,0],[-6.0,0.05],[-5.9,0.3],[-5.7,0.6],[-5.5,1.2],[-5.35,2.0],[-5.15,2.7],[-5.0,1.8],[-4.85,0.7],[-4.7,0.5],[-4.5,0.4],[-4.2,0.35],[-3.8,0.3],[-3.0,0.3],[-2.5,0.35],[-2.0,0.3],[-1.7,0.35],[-1.5,0.2],[-1.3,0],[4.4,0]]
];
var t2gDnD = [
    [[-6.5,0],[-5.8,-0.1],[-5.55,-0.4],[-5.35,-0.9],[-5.15,-1.3],[-4.95,-2.0],[-4.8,-2.2],[-4.65,-1.7],[-4.5,-1.2],[-4.3,-0.7],[-4.1,-0.5],[-3.8,-0.3],[-3.2,-0.2],[-2.5,-0.2],[-2.0,-0.3],[-1.7,-0.6],[-1.45,-0.9],[-1.2,-1.1],[-1.05,-1.3],[-0.95,-0.8],[-0.85,-0.2],[-0.7,0],[4.4,0]],
    [[-6.5,0],[-5.8,-0.1],[-5.5,-0.5],[-5.3,-1.0],[-5.1,-1.6],[-4.95,-2.4],[-4.8,-1.9],[-4.65,-2.2],[-4.5,-1.4],[-4.3,-0.8],[-4.0,-0.4],[-3.5,-0.3],[-3.0,-0.2],[-2.0,-0.3],[-1.6,-0.6],[-1.35,-1.1],[-1.15,-1.0],[-1.0,-0.4],[-0.8,0],[4.4,0]],
    [[-6.5,0],[-5.8,-0.1],[-5.5,-0.4],[-5.3,-0.8],[-5.1,-1.3],[-4.95,-1.9],[-4.8,-2.0],[-4.65,-1.6],[-4.5,-1.1],[-4.3,-0.6],[-4.0,-0.4],[-3.5,-0.3],[-3.0,-0.25],[-2.0,-0.3],[-1.7,-0.5],[-1.45,-0.9],[-1.25,-1.0],[-1.05,-0.5],[-0.85,0],[4.4,0]],
    [[-6.5,0],[-5.8,-0.1],[-5.4,-0.4],[-5.0,-0.8],[-4.7,-1.1],[-4.45,-1.4],[-4.25,-1.2],[-4.0,-0.8],[-3.6,-0.5],[-3.2,-0.4],[-2.8,-0.4],[-2.4,-0.45],[-2.0,-0.6],[-1.7,-0.9],[-1.5,-1.3],[-1.3,-1.1],[-1.15,-0.4],[-1.0,0],[4.4,0]],
    [[-6.5,0],[-5.8,-0.1],[-5.5,-0.4],[-5.25,-0.8],[-5.05,-1.0],[-4.85,-0.9],[-4.6,-1.1],[-4.3,-1.3],[-4.1,-1.0],[-3.8,-0.6],[-3.4,-0.4],[-3.0,-0.35],[-2.5,-0.4],[-2.0,-0.5],[-1.75,-0.9],[-1.55,-1.8],[-1.4,-1.2],[-1.25,-0.3],[-1.1,0],[4.4,0]]
];
var egUpD = [
    [[-6.45,0.2],[-6.35,1.3],[-6.25,0.6],[-6.15,1.0],[-6.05,1.4],[-5.95,0.7],[-5.85,0.9],[-5.75,0.3],[-5.6,0.4],[-5.4,0.1],[-5.0,0.2],[-4.5,0.15],[-4.0,0.2],[-3.5,0.25],[-3.0,0.2],[-2.5,0.25],[-2.0,0.2],[-1.5,0.25],[-1.0,0.2],[-0.6,0.1],[-0.3,0.05],[0.0,0.15],[0.2,0.3],[0.4,0.1],[0.6,0.25],[0.8,0.05],[1.0,0.2],[1.3,0.1],[1.6,0.2],[2.0,0.1],[2.4,0.15],[2.7,0]],
    [[-6.45,0.1],[-6.35,0.9],[-6.25,0.5],[-6.15,1.1],[-6.05,0.6],[-5.95,1.0],[-5.85,0.4],[-5.7,0.5],[-5.5,0.2],[-5.0,0.2],[-4.0,0.2],[-3.0,0.2],[-2.0,0.15],[-1.0,0.2],[-0.5,0.1],[0.0,0.2],[0.3,0.1],[0.6,0.25],[1.0,0.1],[1.5,0.2],[2.0,0.1],[2.5,0]],
    [[-6.45,0.1],[-6.35,0.5],[-6.25,0.3],[-6.15,0.6],[-6.05,0.2],[-5.9,0.3],[-5.7,0.1],[-5.0,0.15],[-4.0,0.2],[-3.0,0.15],[-2.0,0.2],[-1.0,0.15],[-0.5,0.1],[-0.2,0.3],[0.1,0.1],[0.4,0.3],[0.7,0.1],[1.0,0.25],[1.3,0.1],[1.6,0.2],[2.0,0.1],[2.4,0.15],[2.7,0]],
    [[-6.45,0.1],[-6.3,0.6],[-6.15,0.3],[-6.0,0.5],[-5.8,0.2],[-5.5,0.2],[-5.0,0.15],[-4.0,0.15],[-3.0,0.15],[-2.0,0.1],[-1.0,0.15],[0.0,0.1],[0.5,0.2],[1.0,0.1],[1.5,0.15],[2.0,0.05],[2.5,0]],
    [[-6.5,0.2],[-6.4,1.0],[-6.3,0.6],[-6.2,0.8],[-6.1,0.3],[-5.9,0.2],[-5.5,0.15],[-5.0,0.2],[-4.0,0.15],[-3.0,0.1],[-2.0,0.15],[-1.0,0.1],[0.0,0.1],[0.5,0.2],[1.0,0.1],[1.5,0.15],[2.0,0.05],[2.5,0]]
];
var egDnD = [
    [[-6.45,-0.1],[-6.2,-0.3],[-6.0,-0.2],[-5.7,-0.1],[-5.0,-0.1],[-4.0,-0.15],[-3.0,-0.1],[-2.0,-0.15],[-1.0,-0.1],[-0.2,-0.1],[0.0,-0.3],[0.2,-0.6],[0.35,-0.3],[0.5,-0.8],[0.65,-0.4],[0.8,-0.7],[0.95,-0.3],[1.1,-0.6],[1.25,-0.2],[1.4,-0.5],[1.55,-0.3],[1.7,-0.6],[1.85,-0.2],[2.0,-0.4],[2.2,-0.2],[2.4,-0.35],[2.6,0]],
    [[-6.45,-0.1],[-6.2,-0.3],[-6.0,-0.15],[-5.7,-0.1],[-5.0,-0.1],[-4.0,-0.15],[-3.0,-0.1],[-2.0,-0.15],[-1.0,-0.1],[-0.2,-0.1],[0.0,-0.3],[0.2,-0.5],[0.35,-0.2],[0.5,-0.7],[0.65,-0.3],[0.8,-0.6],[0.95,-0.3],[1.1,-0.5],[1.25,-0.2],[1.4,-0.5],[1.55,-0.2],[1.7,-0.5],[1.85,-0.2],[2.0,-0.4],[2.2,-0.2],[2.4,-0.3],[2.6,0]],
    [[-6.45,-0.1],[-6.2,-0.2],[-5.8,-0.1],[-5.0,-0.1],[-4.0,-0.15],[-3.0,-0.1],[-2.0,-0.15],[-1.0,-0.1],[-0.3,-0.1],[-0.1,-0.4],[0.1,-0.2],[0.3,-0.6],[0.5,-0.3],[0.7,-0.7],[0.9,-0.3],[1.1,-0.6],[1.3,-0.2],[1.5,-0.5],[1.7,-0.3],[1.9,-0.5],[2.1,-0.2],[2.3,-0.4],[2.5,-0.2],[2.7,0]],
    [[-6.45,-0.05],[-6.0,-0.15],[-5.0,-0.1],[-4.0,-0.15],[-3.0,-0.1],[-2.0,-0.15],[-1.0,-0.1],[0.0,-0.15],[0.3,-0.3],[0.6,-0.2],[0.9,-0.4],[1.2,-0.3],[1.5,-0.5],[1.8,-0.3],[2.1,-0.6],[2.35,-0.8],[2.55,-1.6],[2.7,-1.2],[2.85,-0.6],[3.0,-0.2],[3.2,0]],
    [[-6.5,-0.05],[-6.0,-0.15],[-5.0,-0.1],[-4.0,-0.2],[-3.0,-0.15],[-2.0,-0.1],[-1.0,-0.15],[-0.3,-0.1],[0.0,-0.3],[0.3,-0.5],[0.6,-0.3],[0.9,-0.7],[1.2,-0.4],[1.5,-0.6],[1.8,-0.3],[2.1,-0.6],[2.4,-0.5],[2.6,-0.9],[2.8,-1.3],[2.95,-0.8],[3.1,-0.3],[3.3,0]]
];
var tiUpD = [
    [[-6.5,0],[-5.8,0.1],[-5.5,0.3],[-5.2,0.5],[-4.9,0.4],[-4.6,0.6],[-4.3,0.4],[-4.0,0.5],[-3.7,0.3],[-3.4,0.4],[-3.1,0.2],[-2.5,0.1],[0,0.05],[2.4,0.1],[2.52,0.8],[2.6,1.8],[2.68,1.3],[2.76,2.6],[2.84,2.0],[2.92,3.1],[3.0,2.3],[3.08,2.9],[3.16,2.0],[3.24,2.6],[3.32,1.8],[3.4,2.3],[3.48,1.4],[3.56,1.8],[3.64,0.8],[3.75,0.3],[3.9,0.1],[4.4,0.05]],
    [[-6.5,0],[-5.8,0.1],[-5.5,0.3],[-5.2,0.6],[-4.9,0.4],[-4.6,0.7],[-4.3,0.4],[-4.0,0.5],[-3.7,0.3],[-3.4,0.3],[-3.0,0.15],[-2.5,0.1],[0,0.05],[2.35,0.1],[2.45,0.7],[2.53,1.6],[2.61,1.1],[2.69,2.3],[2.77,1.7],[2.85,2.6],[2.93,1.9],[3.01,2.5],[3.09,1.7],[3.17,2.2],[3.25,1.5],[3.33,2.0],[3.41,1.2],[3.49,1.5],[3.57,0.7],[3.68,0.3],[3.8,0.1],[4.4,0.05]],
    [[-6.5,0],[-5.8,0.1],[-5.5,0.3],[-5.2,0.4],[-4.9,0.3],[-4.6,0.5],[-4.3,0.3],[-4.0,0.4],[-3.6,0.2],[-3.0,0.1],[0,0.05],[2.5,0.1],[2.65,0.8],[2.73,1.9],[2.81,1.4],[2.89,2.7],[2.97,2.0],[3.05,3.0],[3.13,2.2],[3.21,2.8],[3.29,1.9],[3.37,2.4],[3.45,1.6],[3.53,2.0],[3.61,1.1],[3.7,1.2],[3.8,0.4],[3.9,0.1],[4.4,0.05]],
    [[-6.5,0],[-5.8,0.1],[-5.5,0.3],[-5.2,0.2],[-4.9,0.4],[-4.6,0.3],[-4.3,0.4],[-4.0,0.2],[-3.5,0.1],[0,0.05],[1.6,0.1],[1.8,0.6],[1.9,1.4],[1.98,1.0],[2.06,2.2],[2.14,1.6],[2.22,2.8],[2.3,2.0],[2.38,3.0],[2.46,2.1],[2.54,2.6],[2.62,1.7],[2.7,2.1],[2.78,1.2],[2.86,1.4],[2.95,0.7],[3.05,0.5],[3.2,0.6],[3.4,0.4],[3.6,0.6],[3.8,0.3],[4.0,0.5],[4.2,0.3],[4.4,0.4]],
    [[-6.5,0],[-5.6,0.1],[-5.3,0.3],[-5.0,0.2],[-4.7,0.4],[-4.4,0.2],[-4.0,0.3],[-3.5,0.15],[-3.0,0.1],[0,0.05],[1.2,0.1],[1.4,0.6],[1.5,1.5],[1.6,2.4],[1.7,1.8],[1.8,3.2],[1.9,2.4],[2.0,2.9],[2.1,2.0],[2.2,2.6],[2.3,1.6],[2.4,2.0],[2.5,1.1],[2.6,0.8],[2.8,0.4],[3.0,0.6],[3.2,0.3],[3.4,0.5],[3.6,0.3],[3.8,0.5],[4.0,0.2],[4.2,0.4],[4.4,0.3]]
];
var tiDnD = [
    [[-6.5,0],[-5.8,-0.1],[-5.5,-0.3],[-5.2,-0.5],[-4.9,-0.4],[-4.6,-0.6],[-4.3,-0.4],[-4.0,-0.5],[-3.7,-0.3],[-3.4,-0.3],[-3.0,-0.15],[-2.5,-0.1],[0,-0.05],[2.4,-0.1],[2.52,-0.7],[2.6,-1.6],[2.68,-1.2],[2.76,-2.4],[2.84,-1.8],[2.92,-2.7],[3.0,-2.0],[3.08,-2.6],[3.16,-1.8],[3.24,-2.3],[3.32,-1.6],[3.4,-2.0],[3.48,-1.2],[3.56,-1.5],[3.64,-0.7],[3.75,-0.3],[3.9,-0.1],[4.4,-0.05]],
    [[-6.5,0],[-5.8,-0.1],[-5.5,-0.3],[-5.2,-0.5],[-4.9,-0.4],[-4.6,-0.6],[-4.3,-0.3],[-4.0,-0.4],[-3.6,-0.2],[-3.0,-0.1],[0,-0.05],[2.35,-0.1],[2.45,-0.8],[2.53,-1.8],[2.61,-1.3],[2.69,-2.6],[2.77,-1.9],[2.85,-2.9],[2.93,-2.1],[3.01,-2.7],[3.09,-1.8],[3.17,-2.4],[3.25,-1.6],[3.33,-2.1],[3.41,-1.3],[3.49,-1.6],[3.57,-0.7],[3.68,-0.3],[3.8,-0.1],[4.4,-0.05]],
    [[-6.5,0],[-5.8,-0.1],[-5.5,-0.3],[-5.2,-0.4],[-4.9,-0.3],[-4.6,-0.5],[-4.3,-0.3],[-4.0,-0.3],[-3.6,-0.2],[-3.0,-0.1],[0,-0.05],[2.5,-0.1],[2.65,-0.7],[2.73,-1.7],[2.81,-1.3],[2.89,-2.5],[2.97,-1.9],[3.05,-2.7],[3.13,-2.0],[3.21,-2.5],[3.29,-1.7],[3.37,-2.2],[3.45,-1.4],[3.53,-1.8],[3.61,-1.0],[3.7,-1.0],[3.8,-0.3],[3.9,-0.1],[4.4,-0.05]],
    [[-6.5,0],[-5.8,-0.1],[-5.5,-0.3],[-5.2,-0.2],[-4.9,-0.4],[-4.6,-0.3],[-4.3,-0.3],[-4.0,-0.2],[-3.5,-0.1],[0,-0.05],[1.6,-0.1],[1.8,-0.6],[1.9,-1.3],[1.98,-1.0],[2.06,-2.0],[2.14,-1.5],[2.22,-2.5],[2.3,-1.9],[2.38,-2.8],[2.46,-2.2],[2.54,-3.0],[2.62,-3.3],[2.7,-2.3],[2.78,-1.5],[2.86,-1.6],[2.95,-0.8],[3.05,-0.5],[3.2,-0.6],[3.4,-0.4],[3.6,-0.6],[3.8,-0.3],[4.0,-0.5],[4.2,-0.3],[4.4,-0.4]],
    [[-6.5,0],[-5.6,-0.1],[-5.3,-0.3],[-5.0,-0.2],[-4.7,-0.4],[-4.4,-0.2],[-4.0,-0.3],[-3.5,-0.15],[-3.0,-0.1],[0,-0.05],[1.2,-0.1],[1.4,-0.6],[1.5,-1.4],[1.6,-2.2],[1.7,-1.7],[1.8,-3.0],[1.9,-2.2],[2.0,-3.1],[2.1,-2.0],[2.2,-2.6],[2.3,-1.6],[2.4,-1.9],[2.5,-1.0],[2.6,-0.7],[2.8,-0.4],[3.0,-0.6],[3.2,-0.3],[3.4,-0.5],[3.6,-0.3],[3.8,-0.5],[4.0,-0.2],[4.2,-0.4],[4.4,-0.3]]
];

// ---- (e) Ni(2), U = 5 eV ----
var t2gUpE = [
    [[-6.5,0],[-5.9,0.05],[-5.65,0.3],[-5.5,0.8],[-5.35,1.5],[-5.2,2.2],[-5.05,2.55],[-4.92,2.2],[-4.8,1.6],[-4.65,1.0],[-4.5,0.5],[-4.3,0.3],[-4.0,0.2],[-3.5,0.1],[-2.5,0.1],[-2.0,0.15],[-1.7,0.3],[-1.4,0.4],[-1.1,0.3],[-0.9,0.1],[-0.6,0],[4.4,0]],
    [[-6.5,0],[-5.8,0.1],[-5.6,0.4],[-5.45,1.0],[-5.3,1.8],[-5.2,2.6],[-5.1,3.4],[-5.0,2.2],[-4.9,1.3],[-4.8,1.6],[-4.7,1.2],[-4.55,0.7],[-4.4,0.4],[-4.2,0.3],[-3.8,0.2],[-3.0,0.15],[-2.0,0.2],[-1.6,0.3],[-1.3,0.35],[-1.0,0.2],[-0.7,0],[4.4,0]],
    [[-6.5,0],[-5.8,0.1],[-5.5,0.3],[-5.3,0.7],[-5.15,1.0],[-5.0,1.3],[-4.85,1.0],[-4.7,1.1],[-4.5,0.7],[-4.3,0.4],[-4.0,0.3],[-3.5,0.2],[-3.0,0.2],[-2.0,0.2],[-1.6,0.3],[-1.3,0.4],[-1.1,0.2],[-0.9,0],[4.4,0]],
    [[-6.5,0],[-5.8,0.1],[-5.5,0.4],[-5.3,0.6],[-5.0,0.7],[-4.7,0.6],[-4.3,0.5],[-3.8,0.45],[-3.4,0.4],[-3.0,0.4],[-2.6,0.45],[-2.2,0.4],[-1.9,0.5],[-1.6,0.4],[-1.4,0.1],[-1.2,0],[4.4,0]],
    [[-6.5,0],[-6.0,0.05],[-5.8,0.4],[-5.6,0.9],[-5.45,1.5],[-5.3,1.8],[-5.15,1.6],[-5.0,1.2],[-4.85,0.6],[-4.7,0.4],[-4.4,0.35],[-4.0,0.3],[-3.0,0.3],[-2.5,0.35],[-2.0,0.3],[-1.7,0.35],[-1.5,0.2],[-1.3,0],[4.4,0]]
];
var t2gDnE = [
    [[-6.5,0],[-5.8,-0.1],[-5.6,-0.4],[-5.4,-0.9],[-5.2,-1.4],[-5.05,-2.0],[-4.9,-2.2],[-4.75,-1.7],[-4.6,-1.2],[-4.4,-0.7],[-4.2,-0.5],[-3.8,-0.3],[-3.2,-0.2],[-2.5,-0.2],[-2.0,-0.3],[-1.7,-0.6],[-1.45,-0.9],[-1.25,-1.1],[-1.1,-1.3],[-0.98,-0.8],[-0.88,-0.2],[-0.7,0],[4.4,0]],
    [[-6.5,0],[-5.8,-0.1],[-5.5,-0.5],[-5.3,-1.0],[-5.1,-1.6],[-4.95,-2.4],[-4.8,-1.9],[-4.65,-2.2],[-4.5,-1.4],[-4.3,-0.8],[-4.0,-0.4],[-3.5,-0.3],[-3.0,-0.2],[-2.0,-0.3],[-1.6,-0.6],[-1.35,-1.1],[-1.15,-1.0],[-1.0,-0.4],[-0.8,0],[4.4,0]],
    [[-6.5,0],[-5.8,-0.1],[-5.5,-0.4],[-5.3,-0.8],[-5.1,-1.3],[-4.95,-1.9],[-4.8,-2.0],[-4.65,-1.6],[-4.5,-1.1],[-4.3,-0.6],[-4.0,-0.4],[-3.5,-0.3],[-3.0,-0.25],[-2.0,-0.3],[-1.7,-0.5],[-1.45,-0.9],[-1.25,-1.0],[-1.05,-0.5],[-0.85,0],[4.4,0]],
    [[-6.5,0],[-5.8,-0.1],[-5.4,-0.4],[-5.0,-0.9],[-4.8,-1.3],[-4.6,-1.8],[-4.4,-1.4],[-4.1,-0.8],[-3.7,-0.5],[-3.2,-0.4],[-2.8,-0.4],[-2.4,-0.45],[-2.0,-0.6],[-1.7,-0.9],[-1.5,-1.2],[-1.3,-1.0],[-1.15,-0.4],[-1.0,0],[4.4,0]],
    [[-6.5,0],[-5.8,-0.1],[-5.5,-0.4],[-5.2,-0.8],[-5.0,-1.2],[-4.85,-1.6],[-4.7,-1.8],[-4.55,-1.2],[-4.3,-0.8],[-3.9,-0.6],[-3.4,-0.4],[-3.0,-0.35],[-2.5,-0.4],[-2.0,-0.6],[-1.75,-1.0],[-1.55,-1.5],[-1.4,-1.1],[-1.25,-0.3],[-1.1,0],[4.4,0]]
];
var egUpE = [
    [[-6.45,0.2],[-6.35,1.0],[-6.25,1.3],[-6.15,0.7],[-6.05,1.2],[-5.95,0.6],[-5.85,0.8],[-5.75,0.3],[-5.6,0.4],[-5.4,0.1],[-5.0,0.2],[-4.5,0.15],[-4.0,0.2],[-3.5,0.25],[-3.0,0.2],[-2.5,0.25],[-2.0,0.2],[-1.5,0.25],[-1.0,0.2],[-0.6,0.1],[-0.3,0.05],[0.0,0.15],[0.2,0.3],[0.4,0.1],[0.6,0.25],[0.8,0.05],[1.0,0.2],[1.3,0.1],[1.6,0.2],[2.0,0.1],[2.4,0.15],[2.7,0]],
    [[-6.45,0.2],[-6.35,1.5],[-6.25,0.8],[-6.15,1.2],[-6.05,0.6],[-5.95,0.9],[-5.85,0.4],[-5.7,0.5],[-5.5,0.2],[-5.0,0.2],[-4.0,0.2],[-3.0,0.2],[-2.0,0.15],[-1.0,0.2],[-0.5,0.1],[0.0,0.2],[0.3,0.1],[0.6,0.25],[1.0,0.1],[1.5,0.2],[2.0,0.1],[2.5,0]],
    [[-6.45,0.1],[-6.35,0.6],[-6.25,0.3],[-6.15,0.7],[-6.05,0.2],[-5.9,0.3],[-5.7,0.1],[-5.0,0.15],[-4.0,0.2],[-3.0,0.15],[-2.0,0.2],[-1.0,0.15],[-0.5,0.1],[-0.2,0.3],[0.1,0.1],[0.4,0.3],[0.7,0.1],[1.0,0.25],[1.3,0.1],[1.6,0.2],[2.0,0.1],[2.4,0.15],[2.7,0]],
    [[-6.45,0.1],[-6.3,0.7],[-6.15,0.3],[-6.0,0.5],[-5.8,0.2],[-5.5,0.2],[-5.0,0.15],[-4.0,0.15],[-3.0,0.15],[-2.0,0.1],[-1.0,0.15],[0.0,0.1],[0.5,0.2],[1.0,0.1],[1.5,0.15],[2.0,0.05],[2.5,0]],
    [[-6.5,0.2],[-6.4,0.9],[-6.3,0.5],[-6.2,0.7],[-6.1,0.3],[-5.9,0.2],[-5.5,0.15],[-5.0,0.2],[-4.0,0.15],[-3.0,0.1],[-2.0,0.15],[-1.0,0.1],[0.0,0.1],[0.5,0.2],[1.0,0.1],[1.5,0.15],[2.0,0.05],[2.5,0]]
];
var egDnE = [
    [[-6.45,-0.1],[-6.2,-0.3],[-6.0,-0.2],[-5.7,-0.1],[-5.0,-0.1],[-4.0,-0.15],[-3.0,-0.1],[-2.0,-0.15],[-1.0,-0.1],[-0.2,-0.1],[0.0,-0.3],[0.2,-0.6],[0.35,-0.3],[0.5,-0.8],[0.65,-0.4],[0.8,-0.7],[0.95,-0.3],[1.1,-0.6],[1.25,-0.2],[1.4,-0.5],[1.55,-0.3],[1.7,-0.6],[1.85,-0.2],[2.0,-0.4],[2.2,-0.2],[2.4,-0.35],[2.6,0]],
    [[-6.45,-0.1],[-6.2,-0.3],[-6.0,-0.15],[-5.7,-0.1],[-5.0,-0.1],[-4.0,-0.15],[-3.0,-0.1],[-2.0,-0.15],[-1.0,-0.1],[-0.2,-0.1],[0.0,-0.3],[0.2,-0.5],[0.35,-0.2],[0.5,-0.7],[0.65,-0.3],[0.8,-0.6],[0.95,-0.3],[1.1,-0.5],[1.25,-0.2],[1.4,-0.5],[1.55,-0.2],[1.7,-0.5],[1.85,-0.2],[2.0,-0.4],[2.2,-0.2],[2.4,-0.3],[2.6,0]],
    [[-6.45,-0.1],[-6.2,-0.2],[-5.8,-0.1],[-5.0,-0.1],[-4.0,-0.15],[-3.0,-0.1],[-2.0,-0.15],[-1.0,-0.1],[-0.3,-0.1],[-0.1,-0.4],[0.1,-0.2],[0.3,-0.6],[0.5,-0.3],[0.7,-0.7],[0.9,-0.3],[1.1,-0.6],[1.3,-0.2],[1.5,-0.5],[1.7,-0.3],[1.9,-0.5],[2.1,-0.2],[2.3,-0.4],[2.5,-0.2],[2.7,0]],
    [[-6.45,-0.05],[-6.0,-0.15],[-5.0,-0.1],[-4.0,-0.15],[-3.0,-0.1],[-2.0,-0.15],[-1.0,-0.1],[0.0,-0.15],[0.3,-0.3],[0.6,-0.2],[0.9,-0.4],[1.2,-0.3],[1.5,-0.6],[1.7,-0.4],[1.9,-0.9],[2.05,-1.0],[2.2,-0.7],[2.4,-0.8],[2.6,-0.5],[2.8,-0.3],[3.0,-0.1],[3.2,0]],
    [[-6.5,-0.05],[-6.0,-0.15],[-5.0,-0.1],[-4.0,-0.2],[-3.0,-0.15],[-2.0,-0.1],[-1.0,-0.15],[-0.3,-0.1],[0.0,-0.3],[0.3,-0.5],[0.6,-0.3],[0.9,-0.6],[1.2,-0.4],[1.5,-0.7],[1.7,-0.5],[1.9,-0.9],[2.05,-1.1],[2.2,-0.7],[2.4,-0.5],[2.6,-0.6],[2.8,-0.3],[3.0,-0.1],[3.2,0]]
];
var tiUpE = [
    [[-6.5,0],[-5.8,0.1],[-5.5,0.3],[-5.2,0.5],[-4.9,0.4],[-4.6,0.6],[-4.3,0.4],[-4.0,0.5],[-3.7,0.3],[-3.4,0.4],[-3.1,0.2],[-2.5,0.1],[0,0.05],[2.4,0.1],[2.5,0.9],[2.58,2.2],[2.66,3.1],[2.74,2.2],[2.82,2.8],[2.9,2.0],[2.98,2.6],[3.06,1.8],[3.14,2.5],[3.22,1.7],[3.3,2.3],[3.38,1.5],[3.46,2.0],[3.54,1.2],[3.62,1.5],[3.7,0.6],[3.8,0.2],[3.9,0.1],[4.4,0.05]],
    [[-6.5,0],[-5.8,0.1],[-5.5,0.3],[-5.2,0.6],[-4.9,0.4],[-4.6,0.7],[-4.3,0.4],[-4.0,0.5],[-3.7,0.3],[-3.4,0.3],[-3.0,0.15],[-2.5,0.1],[0,0.05],[2.35,0.1],[2.45,0.7],[2.53,1.6],[2.61,1.1],[2.69,2.3],[2.77,1.7],[2.85,2.6],[2.93,1.9],[3.01,2.5],[3.09,1.7],[3.17,2.2],[3.25,1.5],[3.33,2.0],[3.41,1.2],[3.49,1.5],[3.57,0.7],[3.68,0.3],[3.8,0.1],[4.4,0.05]],
    [[-6.5,0],[-5.8,0.1],[-5.5,0.3],[-5.2,0.4],[-4.9,0.3],[-4.6,0.5],[-4.3,0.3],[-4.0,0.4],[-3.6,0.2],[-3.0,0.1],[0,0.05],[2.5,0.1],[2.65,0.8],[2.73,1.9],[2.81,1.4],[2.89,2.7],[2.97,2.0],[3.05,3.0],[3.13,2.2],[3.21,2.8],[3.29,1.9],[3.37,2.4],[3.45,1.6],[3.53,2.0],[3.61,1.1],[3.7,1.2],[3.8,0.4],[3.9,0.1],[4.4,0.05]],
    [[-6.5,0],[-5.8,0.1],[-5.5,0.3],[-5.2,0.2],[-4.9,0.4],[-4.6,0.3],[-4.3,0.4],[-4.0,0.2],[-3.5,0.1],[0,0.05],[1.5,0.1],[1.7,0.6],[1.8,1.4],[1.88,1.0],[1.96,2.2],[2.04,1.6],[2.12,2.8],[2.2,2.0],[2.28,3.0],[2.36,2.1],[2.44,2.6],[2.52,1.7],[2.6,2.1],[2.68,1.2],[2.76,1.4],[2.85,0.7],[2.95,0.5],[3.1,0.6],[3.3,0.4],[3.5,0.6],[3.7,0.3],[3.9,0.5],[4.1,0.3],[4.4,0.4]],
    [[-6.5,0],[-5.6,0.1],[-5.3,0.3],[-5.0,0.2],[-4.7,0.4],[-4.4,0.2],[-4.0,0.3],[-3.5,0.15],[-3.0,0.1],[0,0.05],[1.2,0.1],[1.4,0.6],[1.5,1.5],[1.6,2.4],[1.7,1.8],[1.8,3.2],[1.9,2.4],[2.0,2.9],[2.1,2.0],[2.2,2.6],[2.3,1.6],[2.4,2.0],[2.5,1.1],[2.6,0.8],[2.8,0.4],[3.0,0.6],[3.2,0.3],[3.4,0.5],[3.6,0.3],[3.8,0.5],[4.0,0.2],[4.2,0.4],[4.4,0.3]]
];
var tiDnE = [
    [[-6.5,0],[-5.8,-0.1],[-5.5,-0.3],[-5.2,-0.5],[-4.9,-0.4],[-4.6,-0.6],[-4.3,-0.4],[-4.0,-0.5],[-3.7,-0.3],[-3.4,-0.3],[-3.0,-0.15],[-2.5,-0.1],[0,-0.05],[2.4,-0.1],[2.5,-0.8],[2.58,-1.9],[2.66,-2.7],[2.74,-2.0],[2.82,-3.0],[2.9,-2.1],[2.98,-2.7],[3.06,-1.8],[3.14,-2.4],[3.22,-1.6],[3.3,-2.1],[3.38,-1.4],[3.46,-1.8],[3.54,-1.0],[3.62,-1.2],[3.7,-0.5],[3.8,-0.2],[3.9,-0.1],[4.4,-0.05]],
    [[-6.5,0],[-5.8,-0.1],[-5.5,-0.3],[-5.2,-0.5],[-4.9,-0.4],[-4.6,-0.6],[-4.3,-0.3],[-4.0,-0.4],[-3.6,-0.2],[-3.0,-0.1],[0,-0.05],[2.35,-0.1],[2.45,-0.8],[2.53,-1.8],[2.61,-1.3],[2.69,-2.6],[2.77,-1.9],[2.85,-2.9],[2.93,-2.1],[3.01,-2.7],[3.09,-1.8],[3.17,-2.4],[3.25,-1.6],[3.33,-2.1],[3.41,-1.3],[3.49,-1.6],[3.57,-0.7],[3.68,-0.3],[3.8,-0.1],[4.4,-0.05]],
    [[-6.5,0],[-5.8,-0.1],[-5.5,-0.3],[-5.2,-0.4],[-4.9,-0.3],[-4.6,-0.5],[-4.3,-0.3],[-4.0,-0.3],[-3.6,-0.2],[-3.0,-0.1],[0,-0.05],[2.5,-0.1],[2.65,-0.7],[2.73,-1.7],[2.81,-1.3],[2.89,-2.5],[2.97,-1.9],[3.05,-2.7],[3.13,-2.0],[3.21,-2.5],[3.29,-1.7],[3.37,-2.2],[3.45,-1.4],[3.53,-1.8],[3.61,-1.0],[3.7,-1.0],[3.8,-0.3],[3.9,-0.1],[4.4,-0.05]],
    [[-6.5,0],[-5.8,-0.1],[-5.5,-0.3],[-5.2,-0.2],[-4.9,-0.4],[-4.6,-0.3],[-4.3,-0.3],[-4.0,-0.2],[-3.5,-0.1],[0,-0.05],[1.5,-0.1],[1.7,-0.6],[1.8,-1.3],[1.88,-1.0],[1.96,-2.0],[2.04,-1.5],[2.12,-2.5],[2.2,-1.9],[2.28,-2.8],[2.36,-2.2],[2.44,-3.0],[2.52,-3.4],[2.6,-2.3],[2.68,-1.5],[2.76,-1.6],[2.85,-0.8],[2.95,-0.5],[3.1,-0.6],[3.3,-0.4],[3.5,-0.6],[3.7,-0.3],[3.9,-0.5],[4.1,-0.3],[4.4,-0.4]],
    [[-6.5,0],[-5.6,-0.1],[-5.3,-0.3],[-5.0,-0.2],[-4.7,-0.4],[-4.4,-0.2],[-4.0,-0.3],[-3.5,-0.15],[-3.0,-0.1],[0,-0.05],[1.2,-0.1],[1.4,-0.6],[1.5,-1.4],[1.6,-2.2],[1.7,-1.7],[1.8,-3.0],[1.9,-2.2],[2.0,-3.1],[2.1,-2.0],[2.2,-2.6],[2.3,-1.6],[2.4,-1.9],[2.5,-1.0],[2.6,-0.7],[2.8,-0.4],[3.0,-0.6],[3.2,-0.3],[3.4,-0.5],[3.6,-0.3],[3.8,-0.5],[4.0,-0.2],[4.2,-0.4],[4.4,-0.3]]
];

// ---- layout ----
var W = 830, H = 316;
var colLeft0 = 32, colStep = 166, colW = 133;
var rowTop0 = 17, rowH = 53.8;
var xDomain = [-6.5, 4.4], yDomain = [-4.5, 4.5];
var blue = "#1c3cf4", red = "#f0201c", cyan = "#16b4ee";

function flip(curve) {
    return curve.map(function (d) { return [d[0], -d[1]]; });
}

var columns = [
    {t2gUp: t2gA, t2gDn: t2gA.map(flip), egUp: egA, egDn: egA.map(flip), tiUp: tiA, tiDn: tiA.map(flip)},
    {t2gUp: t2gUpB, t2gDn: t2gDnB, egUp: egUpB, egDn: egDnB, tiUp: tiUpB, tiDn: tiDnB},
    {t2gUp: t2gUpC, t2gDn: t2gDnC, egUp: egUpC, egDn: egDnC, tiUp: tiUpC, tiDn: tiDnC},
    {t2gUp: t2gUpD, t2gDn: t2gDnD, egUp: egUpD, egDn: egDnD, tiUp: tiUpD, tiDn: tiDnD},
    {t2gUp: t2gUpE, t2gDn: t2gDnE, egUp: egUpE, egDn: egDnE, tiUp: tiUpE, tiDn: tiDnE}
];

var svg = d3.select("body").append("svg")
    .attr("width", W)
    .attr("height", H);

// text with italic / subscript parts
function addParts(sel, parts, size) {
    var sub = false;
    parts.forEach(function (p) {
        var t = sel.append("tspan").text(p[0]);
        if (p[1] === 1) {
            if (!sub) t.attr("dy", size * 0.3);
            t.attr("font-size", size * 0.72);
            sub = true;
        } else {
            if (sub) t.attr("dy", -size * 0.3);
            if (p[1] === 2) t.attr("font-style", "italic");
            sub = false;
        }
    });
}

svg.append("text")
    .attr("transform", "translate(8," + (rowTop0 + 2.5 * rowH) + ") rotate(-90)")
    .attr("text-anchor", "middle")
    .attr("font-size", "8.5px")
    .text("PDOS (Number of states / eV)");

columns.forEach(function (col, ci) {
    var left = colLeft0 + ci * colStep;
    var x = d3.scaleLinear().domain(xDomain).range([left, left + colW]);

    svg.append("text")
        .attr("x", left - 2).attr("y", 10.5)
        .attr("font-size", "9.5px")
        .text(panelTags[ci]);

    var title = svg.append("text")
        .attr("x", left + colW).attr("y", 10.5)
        .attr("text-anchor", "end")
        .attr("font-size", "8.5px");
    addParts(title, [["Ti- and " + niSites[ci] + "-", 0], ["d", 2], [" (", 0], ["U", 2], [" = " + uValues[ci] + " eV)", 0]], 8.5);

    for (var r = 0; r < 5; r++) {
        var top = rowTop0 + r * rowH;
        var y = d3.scaleLinear().domain(yDomain).range([top + rowH, top]);
        var g = svg.append("g");
        var clipId = "clip-" + ci + "-" + r;
        g.append("clipPath").attr("id", clipId)
            .append("rect").attr("x", left).attr("y", top).attr("width", colW).attr("height", rowH);

        // grid
        g.selectAll("line.gx").data(xTicks).enter().append("line")
            .attr("x1", function (d) { return x(d); }).attr("x2", function (d) { return x(d); })
            .attr("y1", top).attr("y2", top + rowH)
            .attr("stroke", "#aaa").attr("stroke-width", 0.6).attr("stroke-dasharray", "1,1.6");
        g.selectAll("line.gy").data([3, -3]).enter().append("line")
            .attr("x1", left).attr("x2", left + colW)
            .attr("y1", function (d) { return y(d); }).attr("y2", function (d) { return y(d); })
            .attr("stroke", "#aaa").attr("stroke-width", 0.6).attr("stroke-dasharray", "1,1.6");

        var plot = g.append("g").attr("clip-path", "url(#" + clipId + ")");
        var area = d3.area()
            .x(function (d) { return x(d[0]); })
            .y0(y(0))
            .y1(function (d) { return y(d[1]); });
        var line = d3.line()
            .x(function (d) { return x(d[0]); })
            .y(function (d) { return y(d[1]); });

        [col.tiUp[r], col.tiDn[r]].forEach(function (c) {
            plot.append("path").attr("d", area(c))
                .attr("fill", cyan).attr("stroke", cyan).attr("stroke-width", 1.6)
                .attr("stroke-linejoin", "round");
        });
        plot.append("line")
            .attr("x1", left).attr("x2", left + colW)
            .attr("y1", y(0)).attr("y2", y(0))
            .attr("stroke", blue).attr("stroke-width", 2);
        [col.t2gUp[r], col.t2gDn[r]].forEach(function (c) {
            plot.append("path").attr("d", line(c))
                .attr("fill", "none").attr("stroke", blue).attr("stroke-width", 1.3)
                .attr("stroke-linejoin", "round");
        });
        [col.egUp[r], col.egDn[r]].forEach(function (c) {
            plot.append("path").attr("d", line(c))
                .attr("fill", "none").attr("stroke", red).attr("stroke-width", 1.3)
                .attr("stroke-linejoin", "round");
        });

        // ticks (inward, mirrored)
        g.selectAll("line.tx").data(xTicks).enter().append("line")
            .attr("x1", function (d) { return x(d); }).attr("x2", function (d) { return x(d); })
            .attr("y1", top + rowH).attr("y2", top + rowH - 3)
            .attr("stroke", "#222").attr("stroke-width", 0.8);
        g.selectAll("line.tx2").data(xTicks).enter().append("line")
            .attr("x1", function (d) { return x(d); }).attr("x2", function (d) { return x(d); })
            .attr("y1", top).attr("y2", top + 3)
            .attr("stroke", "#222").attr("stroke-width", 0.8);
        g.selectAll("line.ty").data(yTicks).enter().append("line")
            .attr("x1", left).attr("x2", left + 3)
            .attr("y1", function (d) { return y(d); }).attr("y2", function (d) { return y(d); })
            .attr("stroke", "#222").attr("stroke-width", 0.8);
        g.selectAll("line.ty2").data(yTicks).enter().append("line")
            .attr("x1", left + colW).attr("x2", left + colW - 3)
            .attr("y1", function (d) { return y(d); }).attr("y2", function (d) { return y(d); })
            .attr("stroke", "#222").attr("stroke-width", 0.8);

        g.selectAll("text.yl").data(yTicks).enter().append("text")
            .attr("x", left - 7)
            .attr("y", function (d) { return y(d) + 2.6; })
            .attr("text-anchor", "end")
            .attr("font-size", "7.5px")
            .text(function (d, i) { return yTickLabels[i]; });

        g.append("rect")
            .attr("x", left).attr("y", top).attr("width", colW).attr("height", rowH)
            .attr("fill", "none").attr("stroke", "#222").attr("stroke-width", 1);
        if (r > 0) {
            g.append("line")
                .attr("x1", left).attr("x2", left + colW)
                .attr("y1", top).attr("y2", top)
                .attr("stroke", "#3a3a3a").attr("stroke-width", 2.4);
        }

        if (ci === 0) {
            var lab = g.append("text")
                .attr("x", left + 5).attr("y", top + 12.5)
                .attr("font-size", "8.5px");
            addParts(lab, rowLabels[r], 8.5);
        }
        if (ci === 1 && r < 3) {
            var ly = y(-3);
            var lt = g.append("text")
                .attr("x", left + 10).attr("y", ly + 2.5)
                .attr("font-size", "7.5px");
            addParts(lt, legendLabels[r], 7.5);
            g.append("line")
                .attr("x1", left + 30).attr("x2", left + 50)
                .attr("y1", ly).attr("y2", ly)
                .attr("stroke", [blue, red, cyan][r])
                .attr("stroke-width", r === 2 ? 4 : 1.8);
        }
    }

    var bottom = rowTop0 + 5 * rowH;
    svg.selectAll(null).data(xTicks).enter().append("text")
        .attr("x", function (d) { return x(d); })
        .attr("y", bottom + 14)
        .attr("text-anchor", "middle")
        .attr("font-size", "9px")
        .text(function (d) { return d; });
    svg.append("text")
        .attr("x", left + colW / 2).attr("y", bottom + 27)
        .attr("text-anchor", "middle")
        .attr("font-size", "9px")
        .text("Energy (eV)");
});
</script>
</body>
</html>
